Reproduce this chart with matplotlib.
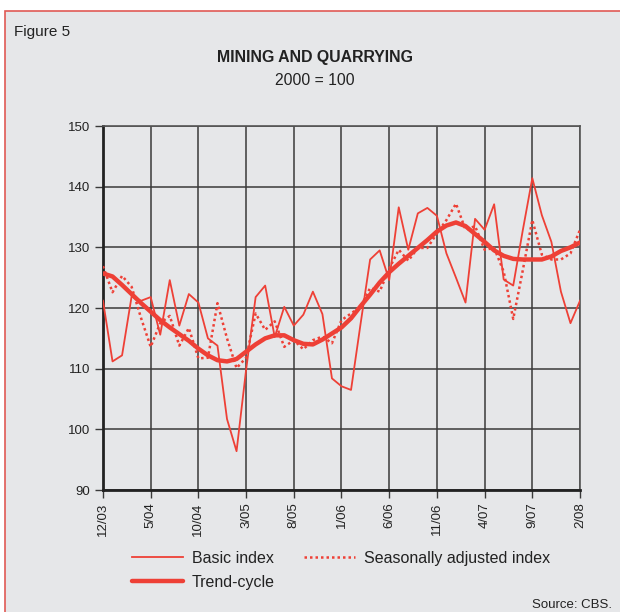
import matplotlib.pyplot as plt
from matplotlib.patches import Rectangle

plt.rcParams['font.family'] = ['Liberation Sans', 'DejaVu Sans']

# Monthly data, 12/03 .. 2/08
months = ['12/03', '1/04', '2/04', '3/04', '4/04', '5/04', '6/04', '7/04', '8/04', '9/04',
          '10/04', '11/04', '12/04', '1/05', '2/05', '3/05', '4/05', '5/05', '6/05', '7/05',
          '8/05', '9/05', '10/05', '11/05', '12/05', '1/06', '2/06', '3/06', '4/06', '5/06',
          '6/06', '7/06', '8/06', '9/06', '10/06', '11/06', '12/06', '1/07', '2/07', '3/07',
          '4/07', '5/07', '6/07', '7/07', '8/07', '9/07', '10/07', '11/07', '12/07', '1/08',
          '2/08']

basic = [121.2, 111.2, 112.2, 121.9, 121.2, 121.8, 115.6, 124.6, 117.1, 122.3,
         120.9, 115.0, 113.8, 101.7, 96.4, 109.8, 121.8, 123.7, 115.2, 120.2,
         117.1, 118.9, 122.7, 119.0, 108.4, 107.1, 106.5, 117.4, 128.0, 129.5,
         124.6, 136.6, 129.6, 135.6, 136.5, 135.2, 129.0, 125.0, 120.9, 134.7,
         132.9, 137.1, 124.7, 123.7, 132.8, 141.4, 135.3, 130.9, 122.7, 117.5,
         121.2]

seasonal = [126.9, 122.6, 125.3, 123.5, 118.3, 113.6, 117.5, 118.7, 113.8, 116.7,
            111.7, 111.8, 120.8, 115.0, 110.1, 111.8, 119.1, 116.4, 117.8, 113.6,
            114.7, 113.2, 114.7, 115.3, 114.2, 118.0, 119.1, 120.2, 123.3, 122.7,
            126.5, 129.6, 127.8, 129.9, 129.9, 132.3, 134.5, 137.2, 132.9, 133.5,
            129.6, 129.9, 126.0, 118.2, 126.2, 134.5, 128.8, 128.0, 128.0, 129.0,
            132.9]

trend = [125.7, 125.2, 123.8, 122.3, 120.8, 119.4, 118.0, 116.8, 115.7, 114.6,
         113.3, 112.2, 111.4, 111.2, 111.6, 112.8, 114.0, 115.0, 115.5, 115.5,
         114.7, 114.1, 114.0, 114.8, 115.8, 116.8, 118.3, 120.3, 122.2, 124.2,
         125.9, 127.3, 128.6, 129.9, 131.2, 132.6, 133.6, 134.1, 133.5, 132.2,
         130.9, 129.5, 128.6, 128.1, 128.0, 128.0, 128.0, 128.5, 129.4, 130.0,
         130.8]

BG = '#e6e7e9'
RED = '#ee4036'
GRID = '#3a3a3a'

fig = plt.figure(figsize=(6.2, 6.12), dpi=100)
fig.patch.set_facecolor('white')
# framed panel behind everything
fig.patches.append(Rectangle((0.0075, -0.01), 1.0, 0.992, transform=fig.transFigure,
                             facecolor=BG, edgecolor='#e05a55', linewidth=1.2,
                             zorder=-10))

ax = fig.add_axes([0.1661, 0.1993, 0.7694, 0.5948])
ax.set_facecolor(BG)
x = list(range(len(months)))

ax.plot(x, basic, color=RED, linewidth=1.3, label='Basic index', zorder=3)
ax.plot(x, seasonal, color=RED, linewidth=1.8, linestyle=(0, (1, 1.2)),
        label='Seasonally adjusted index', zorder=3)
ax.plot(x, trend, color=RED, linewidth=3.2, label='Trend-cycle', zorder=4,
        solid_capstyle='round')

ax.set_xlim(0, len(months) - 1)
ax.set_ylim(90, 150)
ax.set_yticks(range(90, 151, 10))
ax.set_xticks(x[::5])
ax.set_xticklabels(months[::5], rotation=90)
ax.grid(True, color=GRID, linewidth=1.1)
ax.set_axisbelow(True)
ax.tick_params(axis='both', direction='out', length=6, width=1, color=GRID,
               labelsize=9.5, labelcolor='#222222', pad=3)
for side in ['top', 'right']:
    ax.spines[side].set_color('#555555')
    ax.spines[side].set_linewidth(1.2)
for side in ['left', 'bottom']:
    ax.spines[side].set_color('#222222')
    ax.spines[side].set_linewidth(2)

fig.text(0.022, 0.948, 'Figure 5', fontsize=11, color='#222222', va='center')
fig.text(0.508, 0.906, 'MINING AND QUARRYING', fontsize=11.4, fontweight='bold',
         color='#222222', ha='center', va='center')
fig.text(0.508, 0.869, '2000 = 100', fontsize=11.3, color='#222222',
         ha='center', va='center')
fig.text(0.987, 0.012, 'Source: CBS.', fontsize=9.5, color='#222222',
         ha='right', va='center')

h, l = ax.get_legend_handles_labels()
order = [0, 2, 1]
fig.legend([h[i] for i in order], [l[i] for i in order], ncol=2,
           loc='upper left', bbox_to_anchor=(0.213, 0.1), frameon=False,
           borderpad=0, borderaxespad=0,
           fontsize=11.5, handlelength=3.2, columnspacing=1.8, labelspacing=0.55,
           handletextpad=0.55, labelcolor='#222222')

fig.savefig('out.png', dpi=100, facecolor=fig.get_facecolor())
